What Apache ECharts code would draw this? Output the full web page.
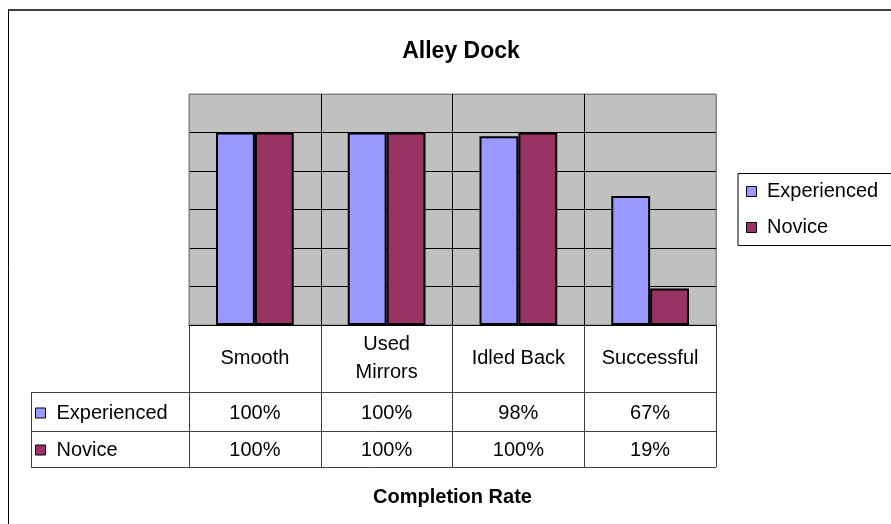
<!DOCTYPE html>
<html><head><meta charset="utf-8">
<script src="https://cdn.jsdelivr.net/npm/echarts@6/dist/echarts.min.js"></script>
<style>html,body{margin:0;padding:0;background:#fff}#c{width:891px;height:524px}</style>
</head><body><div id="c"></div>
<script>
const chartTitle = 'Alley Dock';
const axisTitle = 'Completion Rate';
const categories = ['Smooth', 'Used\nMirrors', 'Idled Back', 'Successful'];
const seriesNames = ['Experienced', 'Novice'];
const experienced = [100, 100, 98, 67];
const novice = [100, 100, 100, 19];
const yMin = 0, yMax = 120, yStep = 20;

const FONT = 'Liberation Sans, Arial, sans-serif';
const FS = 20;
const colors = ['#9999FF', '#993366'];

// layout (pixels)
const G = { l: 189, t: 94, r: 716, b: 325 };
const tableLeft = 31;
const rowLines = [392, 431, 467];
const tableBottom = 467;

const chart = echarts.init(document.getElementById('c'), null, { renderer: 'canvas' });

const nY = (yMax - yMin) / yStep + 1;
const ySplitColors = [];
for (let i = 0; i < nY; i++) ySplitColors.push(i === nY - 1 ? '#808080' : '#000000');
const xSplitColors = categories.map((c, i) => i === 0 ? '#808080' : '#000000').concat(['#808080']);

const graphics = [
  { type: 'line', shape: { x1: 8, y1: 10, x2: 900, y2: 10 }, style: { stroke: '#404040', lineWidth: 2 }, silent: true },
  { type: 'line', shape: { x1: 8.5, y1: 10, x2: 8.5, y2: 530 }, style: { stroke: '#000', lineWidth: 1 }, silent: true },
  { type: 'line', shape: { x1: tableLeft + 0.5, y1: rowLines[0], x2: tableLeft + 0.5, y2: tableBottom }, style: { stroke: '#404040', lineWidth: 1 }, silent: true }
];
rowLines.forEach(y => {
  graphics.push({ type: 'line', shape: { x1: tableLeft, y1: y + 0.5, x2: G.r, y2: y + 0.5 }, style: { stroke: '#404040', lineWidth: 1 }, silent: true });
});

const valueAxis = (vals, margin) => ({
  type: 'category', data: categories, position: 'bottom', gridIndex: 0,
  axisLine: { show: false }, axisTick: { show: false }, splitLine: { show: false },
  axisLabel: {
    interval: 0, margin: margin, verticalAlign: 'middle', color: '#000',
    fontFamily: FONT, fontSize: FS, formatter: (v, i) => vals[i] + '%'
  }
});

const option = {
  animation: false,
  backgroundColor: '#ffffff',
  title: {
    text: chartTitle, left: 456, top: 35, textAlign: 'center',
    textStyle: { fontFamily: FONT, fontSize: 23, fontWeight: 'bold', color: '#000' }
  },
  grid: {
    left: G.l, top: G.t, right: 891 - G.r, bottom: 524 - G.b,
    show: true, backgroundColor: '#C0C0C0', borderColor: '#808080', borderWidth: 1
  },
  legend: [
    {
      data: seriesNames, orient: 'vertical', left: 738, top: 173.5,
      padding: [8, 40, 8, 8], itemGap: 16, itemWidth: 21, itemHeight: 10,
      icon: 'path://M0 0H10V10H0Z',
      borderColor: '#000', borderWidth: 1, backgroundColor: '#fff',
      textStyle: { fontFamily: FONT, fontSize: FS, color: '#000' },
      itemStyle: { borderColor: '#000', borderWidth: 1 }
    },
    {
      data: seriesNames, orient: 'vertical', left: 35, top: 403,
      padding: 0, itemGap: 17, itemWidth: 22, itemHeight: 10,
      icon: 'path://M0 0H10V10H0Z',
      textStyle: { fontFamily: FONT, fontSize: FS, color: '#000' },
      itemStyle: { borderColor: '#000', borderWidth: 1 }
    }
  ],
  xAxis: [
    {
      type: 'category', data: categories, position: 'bottom',
      axisLine: { show: true, lineStyle: { color: '#000', width: 1 } },
      axisTick: { show: true, interval: 0, length: tableBottom - G.b, lineStyle: { color: '#404040', width: 1 } },
      splitLine: { show: true, interval: 0, lineStyle: { color: xSplitColors, width: 1 } },
      axisLabel: {
        interval: 0, margin: 33, verticalAlign: 'middle', lineHeight: 28,
        color: '#000', fontFamily: FONT, fontSize: FS
      },
      name: axisTitle, nameLocation: 'middle', nameGap: 162,
      nameTextStyle: { fontFamily: FONT, fontSize: 20, fontWeight: 'bold', color: '#000' }
    },
    valueAxis(experienced, 88),
    valueAxis(novice, 125)
  ],
  yAxis: {
    type: 'value', min: yMin, max: yMax, interval: yStep,
    axisLine: { show: false }, axisTick: { show: false }, axisLabel: { show: false },
    splitLine: { show: true, lineStyle: { color: ySplitColors, width: 1 } }
  },
  series: [
    {
      name: seriesNames[0], type: 'bar', data: experienced, xAxisIndex: 0,
      barGap: '0%', barCategoryGap: '41%',
      itemStyle: { color: colors[0], borderColor: '#000', borderWidth: 2 }
    },
    {
      name: seriesNames[1], type: 'bar', data: novice, xAxisIndex: 0,
      barGap: '0%', barCategoryGap: '41%',
      itemStyle: { color: colors[1], borderColor: '#000', borderWidth: 2 }
    }
  ],
  graphic: graphics
};
chart.setOption(option);
</script></body></html>
